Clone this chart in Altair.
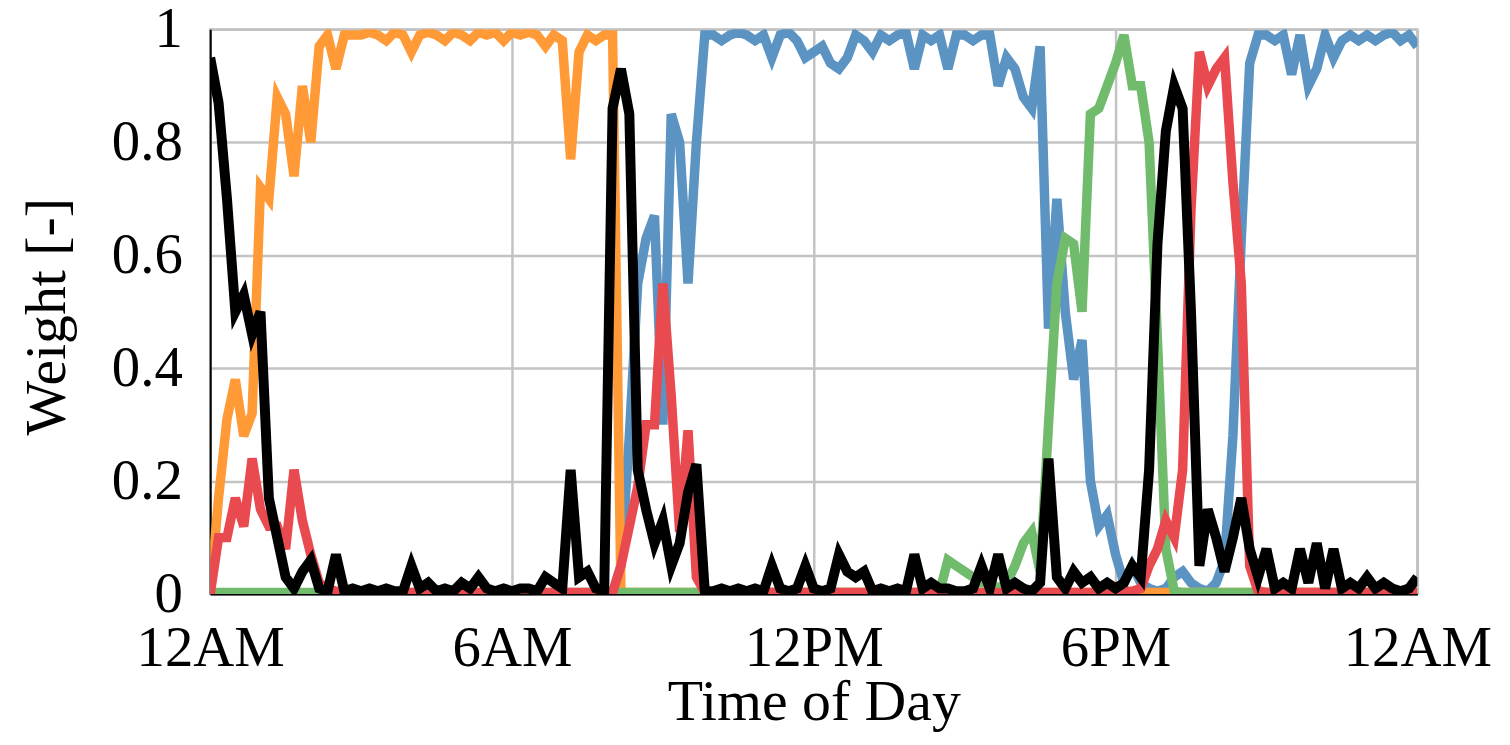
import altair as alt
import pandas as pd

# ---- data (10-minute resolution, 0h .. 24h) ----
black = [
    0.95, 0.87, 0.70, 0.50, 0.53, 0.46,
    0.50, 0.17, 0.10, 0.03, 0.01, 0.04,
    0.06, 0.01, 0.005, 0.07, 0.005, 0.01,
    0.005, 0.01, 0.005, 0.01, 0.005, 0.005,
    0.05, 0.01, 0.02, 0.005, 0.01, 0.005,
    0.02, 0.01, 0.03, 0.01, 0.005, 0.01,
    0.005, 0.01, 0.01, 0.005, 0.03, 0.02,
    0.01, 0.22, 0.03, 0.04, 0.01, 0.005,
    0.86, 0.93, 0.85, 0.22, 0.15, 0.09,
    0.13, 0.05, 0.09, 0.18, 0.23, 0.005,
    0.005, 0.01, 0.005, 0.01, 0.005, 0.01,
    0.005, 0.05, 0.01, 0.005, 0.01, 0.05,
    0.01, 0.005, 0.01, 0.07, 0.04, 0.03,
    0.04, 0.005, 0.01, 0.005, 0.01, 0.005,
    0.07, 0.01, 0.02, 0.01, 0.01, 0.005,
    0.005, 0.01, 0.05, 0.01, 0.07, 0.01,
    0.02, 0.01, 0.005, 0.02, 0.24, 0.03,
    0.01, 0.04, 0.02, 0.03, 0.01, 0.02,
    0.01, 0.02, 0.05, 0.03, 0.22, 0.62,
    0.82, 0.90, 0.86, 0.50, 0.05, 0.15,
    0.10, 0.04, 0.10, 0.17, 0.08, 0.03,
    0.08, 0.01, 0.02, 0.01, 0.08, 0.02,
    0.09, 0.01, 0.08, 0.01, 0.02, 0.01,
    0.03, 0.01, 0.02, 0.01, 0.005, 0.01,
    0.03,
]

orange = [
    0.0, 0.17, 0.31, 0.38, 0.28, 0.32,
    0.72, 0.70, 0.88, 0.85, 0.74, 0.90,
    0.80, 0.97, 0.99, 0.93, 0.99, 0.99,
    0.99, 0.995, 0.99, 0.98, 0.995, 0.99,
    0.96, 0.99, 0.995, 0.99, 0.98, 0.995,
    0.99, 0.98, 0.995, 0.99, 0.995, 0.98,
    0.995, 0.99, 0.995, 0.99, 0.97, 0.99,
    0.98, 0.77, 0.96, 0.99, 0.98, 0.99,
    0.99, 0.003, 0.003, 0.003, 0.003, 0.003,
    0.003, 0.003, 0.003, 0.003, 0.003, 0.003,
    0.003, 0.003, 0.003, 0.003, 0.003, 0.003,
    0.003, 0.003, 0.003, 0.003, 0.003, 0.003,
    0.003, 0.003, 0.003, 0.003, 0.003, 0.003,
    0.003, 0.003, 0.003, 0.003, 0.003, 0.003,
    0.003, 0.003, 0.003, 0.003, 0.003, 0.003,
    0.003, 0.003, 0.003, 0.003, 0.003, 0.003,
    0.003, 0.003, 0.003, 0.003, 0.003, 0.003,
    0.003, 0.003, 0.003, 0.003, 0.003, 0.003,
    0.003, 0.003, 0.003, 0.003, 0.003, 0.003,
    0.003, 0.003, 0.003, 0.003, 0.003, 0.003,
    0.003, 0.003, 0.003, 0.003, 0.003, 0.003,
    0.003, 0.003, 0.003, 0.003, 0.003, 0.003,
    0.003, 0.003, 0.003, 0.003, 0.003, 0.003,
    0.003, 0.003, 0.003, 0.003, 0.003, 0.003,
    0.003,
]

blue = [
    0.002, 0.002, 0.002, 0.002, 0.002, 0.002,
    0.002, 0.002, 0.002, 0.002, 0.002, 0.002,
    0.002, 0.002, 0.002, 0.002, 0.002, 0.002,
    0.002, 0.002, 0.002, 0.002, 0.002, 0.002,
    0.002, 0.002, 0.002, 0.002, 0.002, 0.002,
    0.002, 0.002, 0.002, 0.002, 0.002, 0.002,
    0.002, 0.002, 0.002, 0.002, 0.002, 0.002,
    0.002, 0.002, 0.002, 0.002, 0.002, 0.002,
    0.002, 0.05, 0.28, 0.55, 0.63, 0.67,
    0.30, 0.85, 0.80, 0.55, 0.80, 0.99,
    0.99, 0.98, 0.99, 0.995, 0.99, 0.98,
    0.99, 0.95, 0.99, 0.995, 0.98, 0.95,
    0.96, 0.97, 0.94, 0.93, 0.95, 0.99,
    0.98, 0.96, 0.99, 0.98, 0.99, 0.995,
    0.93, 0.99, 0.98, 0.99, 0.93, 0.99,
    0.99, 0.98, 0.99, 0.99, 0.90, 0.95,
    0.93, 0.88, 0.86, 0.97, 0.47, 0.70,
    0.50, 0.38, 0.45, 0.20, 0.12, 0.14,
    0.07, 0.02, 0.05, 0.02, 0.01, 0.005,
    0.01, 0.03, 0.04, 0.02, 0.01, 0.005,
    0.02, 0.06, 0.28, 0.63, 0.94, 0.99,
    0.99, 0.98, 0.99, 0.92, 0.99, 0.90,
    0.93, 0.99, 0.95, 0.98, 0.99, 0.98,
    0.99, 0.98, 0.99, 0.995, 0.98, 0.99,
    0.97,
]

red = [
    0.0, 0.10, 0.10, 0.17, 0.12, 0.24,
    0.15, 0.12, 0.12, 0.08, 0.22, 0.13,
    0.07, 0.02, 0.01, 0.005, 0.003, 0.003,
    0.003, 0.003, 0.003, 0.003, 0.003, 0.003,
    0.003, 0.003, 0.003, 0.003, 0.003, 0.003,
    0.003, 0.003, 0.003, 0.003, 0.003, 0.003,
    0.003, 0.003, 0.003, 0.003, 0.003, 0.003,
    0.003, 0.003, 0.003, 0.003, 0.003, 0.003,
    0.003, 0.05, 0.12, 0.19, 0.30, 0.30,
    0.55, 0.35, 0.11, 0.29, 0.03, 0.003,
    0.003, 0.003, 0.003, 0.003, 0.003, 0.003,
    0.003, 0.003, 0.003, 0.003, 0.003, 0.003,
    0.003, 0.003, 0.003, 0.003, 0.003, 0.003,
    0.003, 0.003, 0.003, 0.003, 0.003, 0.003,
    0.003, 0.003, 0.003, 0.003, 0.003, 0.003,
    0.003, 0.003, 0.003, 0.003, 0.003, 0.003,
    0.003, 0.003, 0.003, 0.003, 0.003, 0.003,
    0.003, 0.003, 0.003, 0.003, 0.003, 0.003,
    0.005, 0.005, 0.005, 0.01, 0.05, 0.08,
    0.13, 0.10, 0.22, 0.68, 0.96, 0.90,
    0.93, 0.95, 0.73, 0.55, 0.05, 0.005,
    0.003, 0.003, 0.003, 0.003, 0.003, 0.003,
    0.003, 0.003, 0.003, 0.003, 0.003, 0.003,
    0.003, 0.003, 0.003, 0.003, 0.003, 0.003,
    0.003,
]

green = [
    0.003, 0.003, 0.003, 0.003, 0.003, 0.003,
    0.003, 0.003, 0.003, 0.003, 0.003, 0.003,
    0.003, 0.003, 0.003, 0.003, 0.003, 0.003,
    0.003, 0.003, 0.003, 0.003, 0.003, 0.003,
    0.003, 0.003, 0.003, 0.003, 0.003, 0.003,
    0.003, 0.003, 0.003, 0.003, 0.003, 0.003,
    0.003, 0.003, 0.003, 0.003, 0.003, 0.003,
    0.003, 0.003, 0.003, 0.003, 0.003, 0.003,
    0.003, 0.003, 0.003, 0.003, 0.003, 0.003,
    0.003, 0.003, 0.003, 0.003, 0.003, 0.003,
    0.003, 0.003, 0.003, 0.003, 0.003, 0.003,
    0.003, 0.003, 0.003, 0.003, 0.003, 0.003,
    0.003, 0.003, 0.003, 0.003, 0.003, 0.003,
    0.003, 0.003, 0.003, 0.003, 0.003, 0.003,
    0.003, 0.003, 0.003, 0.003, 0.06, 0.05,
    0.04, 0.03, 0.02, 0.02, 0.01, 0.02,
    0.05, 0.09, 0.11, 0.04, 0.30, 0.55,
    0.63, 0.62, 0.50, 0.85, 0.86, 0.90,
    0.94, 0.99, 0.90, 0.90, 0.80, 0.45,
    0.08, 0.005, 0.003, 0.003, 0.003, 0.003,
    0.003, 0.003, 0.003, 0.003, 0.003, 0.003,
    0.003, 0.003, 0.003, 0.003, 0.003, 0.003,
    0.003, 0.003, 0.003, 0.003, 0.003, 0.003,
    0.003, 0.003, 0.003, 0.003, 0.003, 0.003,
    0.003,
]

hours = [i / 6 for i in range(len(black))]
x_tick_values = [0, 6, 12, 18, 24]
x_tick_labels = ["12AM", "6AM", "12PM", "6PM", "12AM"]
y_tick_values = [0, 0.2, 0.4, 0.6, 0.8, 1]

# drawing order: bottom to top
series = [
    ("blue", blue, "#5B93C3", 9.5),
    ("orange", orange, "#FF9A36", 9.5),
    ("green", green, "#70BC6C", 9.5),
    ("red", red, "#E84A4F", 9.5),
    ("black", black, "#000000", 10),
]

rows = []
for name, vals, _, _ in series:
    for t, v in zip(hours, vals):
        rows.append({"t": t, "w": v, "s": name})
df = pd.DataFrame(rows)

FONT = "Liberation Serif"
label_expr = "[" + ",".join("'%s'" % s for s in x_tick_labels) + "][round(datum.value / 6)]"

x_enc = alt.X(
    "t:Q",
    scale=alt.Scale(domain=[0, 24], nice=False, zero=False),
    axis=alt.Axis(
        values=x_tick_values,
        labelExpr=label_expr,
        title="Time of Day",
        labelFlush=False,
        labelOverlap=False,
        labelPadding=27,
        titleY=126,
        titleBaseline="alphabetic",
    ),
)
y_enc = alt.Y(
    "w:Q",
    scale=alt.Scale(domain=[0, 1], nice=False),
    axis=alt.Axis(
        values=y_tick_values,
        format="~g",
        title="Weight [-]",
        labelPadding=28,
        labelOverlap=False,
        labelBound=False,
        titleAngle=-90,
        titleX=-146,
        titleY=288,
        titleAlign="center",
        titleBaseline="alphabetic",
    ),
)

base = alt.Chart(df).encode(x=x_enc, y=y_enc, detail="s:N")

layers = []
for name, _, color, width in series:
    layers.append(
        base.transform_filter(alt.datum.s == name).mark_line(
            color=color, strokeWidth=width, clip=True, strokeJoin="miter"
        )
    )

chart = (
    alt.layer(*layers)
    .properties(
        width=1212,
        height=567,
        autosize=alt.AutoSizeParams(type="none"),
        padding={"left": 203, "top": 20, "right": 85, "bottom": 138},
        background="white",
    )
    .configure_axis(
        labelFont=FONT,
        titleFont=FONT,
        labelFontSize=57,
        titleFontSize=58,
        labelColor="black",
        titleColor="black",
        titleFontWeight="normal",
        ticks=False,
        domainColor="black",
        domainWidth=2,
        gridColor="#c3c3c3",
        gridWidth=2.5,
        gridOpacity=1,
    )
    .configure_view(stroke="#c3c3c3", strokeWidth=2.5)
)

chart.save("out.html", embed_options={"renderer": "svg", "actions": False})
